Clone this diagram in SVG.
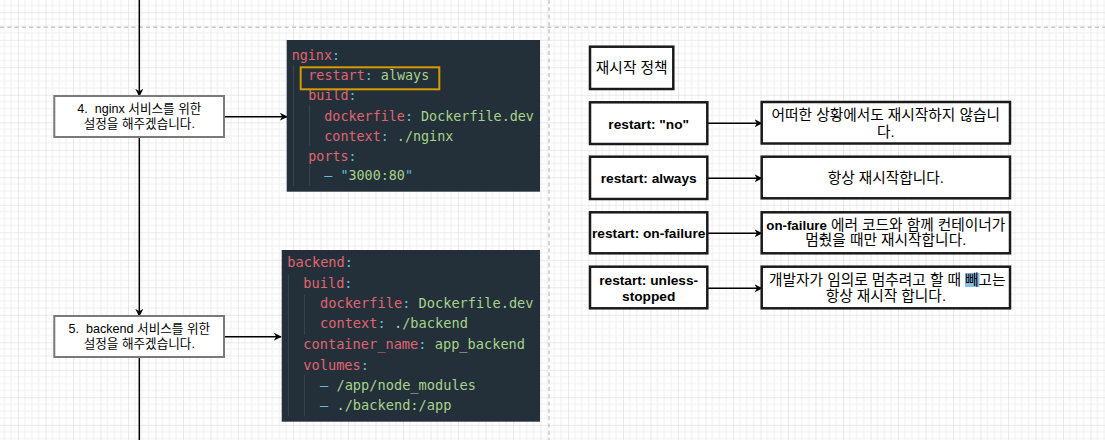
<svg xmlns="http://www.w3.org/2000/svg" width="1105" height="440" viewBox="0 0 1105 440">
<defs>
<pattern id="grid" patternUnits="userSpaceOnUse" x="18" y="12.3" width="27.5" height="27.5">
<rect width="27.5" height="27.5" fill="#ffffff"/>
<path d="M6.875 0V27.5M13.75 0V27.5M20.625 0V27.5M0 6.875H27.5M0 13.75H27.5M0 20.625H27.5" stroke="#f0f0f0" stroke-width="1"/>
<path d="M0 0V27.5M0 0H27.5" stroke="#d6d6d6" stroke-width="1"/>
</pattern>
<marker id="arr" viewBox="0 0 10 10" refX="9" refY="5" markerWidth="8" markerHeight="8" markerUnits="userSpaceOnUse" orient="auto">
<path d="M0 0L10 5L0 10L3 5Z" fill="#000"/>
</marker>
</defs>
<style>
.conn{stroke:#000;stroke-width:1.5;fill:none}
.dash{stroke:#c8c8c8;stroke-width:1.5;stroke-dasharray:4 3.3;fill:none}
.step{fill:#fff;stroke:#7a7a7a;stroke-width:2}
.stepT{font-family:"Liberation Sans","Noto Sans CJK KR",sans-serif;font-size:12.6px;fill:#000;text-anchor:middle;white-space:pre}
.box{fill:#fff;stroke:#1a1a1a;stroke-width:2.5}
.bT{font-family:"Liberation Sans","Noto Sans CJK KR",sans-serif;font-size:14.7px;fill:#000;text-anchor:middle}
.bL{font-family:"Liberation Sans","Noto Sans CJK KR",sans-serif;font-size:13.7px;font-weight:bold;fill:#000;text-anchor:middle}
.code{fill:#243039}
.mono{font-family:"DejaVu Sans Mono","Liberation Mono",monospace;white-space:pre}
.k{fill:#e06470}
.c{fill:#5bc0d8}
.v{fill:#a6d38a}
.guide{stroke:#34434d;stroke-width:1}
</style>
<rect width="1105" height="440" fill="url(#grid)"/>
<path class="dash" d="M0 27.3H1105"/>
<path class="dash" d="M549 0V440"/>

<g id="connectors">
<path class="conn" d="M139.3 0V96" marker-end="url(#arr)"/>
<path class="conn" d="M139.3 137V316" marker-end="url(#arr)"/>
<path class="conn" d="M139.3 357V440"/>
<path class="conn" d="M224 116.7H287" marker-end="url(#arr)"/>
<path class="conn" d="M224 336.7H281" marker-end="url(#arr)"/>
<path class="conn" d="M707.3 123.3H761.7" marker-end="url(#arr)"/>
<path class="conn" d="M707.3 178.3H761.7" marker-end="url(#arr)"/>
<path class="conn" d="M707.3 233.3H761.7" marker-end="url(#arr)"/>
<path class="conn" d="M707.3 288.3H761.7" marker-end="url(#arr)"/>
</g>

<g id="step4">
<rect class="step" x="54.3" y="96" width="169.7" height="41"/>
<text class="stepT" x="139.3" y="112.5">4.  nginx 서비스를 위한</text>
<text class="stepT" x="139.3" y="128">설정을 해주겠습니다.</text>
</g>

<g id="step5">
<rect class="step" x="54.3" y="316" width="169.7" height="41"/>
<text class="stepT" x="139.3" y="332.5">5.  backend 서비스를 위한</text>
<text class="stepT" x="139.3" y="348">설정을 해주겠습니다.</text>
</g>

<g id="code-nginx">
<rect class="code" x="286.7" y="40" width="253.3" height="151.7"/>
<path class="guide" d="M293.5 65V186M309.5 105V146M309.5 165V186"/>
<g class="mono" font-size="13.4">
<text x="291.7" y="59.5"><tspan class="k">nginx</tspan><tspan class="c">:</tspan></text>
<text x="308.3" y="79.5"><tspan class="k">restart</tspan><tspan class="c">:</tspan><tspan class="v"> always</tspan></text>
<text x="308.3" y="99.5"><tspan class="k">build</tspan><tspan class="c">:</tspan></text>
<text x="324.3" y="120.5"><tspan class="k">dockerfile</tspan><tspan class="c">:</tspan><tspan class="v"> Dockerfile.dev</tspan></text>
<text x="324.3" y="140.5"><tspan class="k">context</tspan><tspan class="c">:</tspan><tspan class="v"> ./nginx</tspan></text>
<text x="308.3" y="160.5"><tspan class="k">ports</tspan><tspan class="c">:</tspan></text>
<text x="324.3" y="180"><tspan class="c">– "</tspan><tspan class="v">3000:80</tspan><tspan class="c">"</tspan></text>
</g>
<rect x="300.7" y="67.3" width="138.6" height="22" fill="none" stroke="#d79b00" stroke-width="2"/>
</g>

<g id="code-backend">
<rect class="code" x="281.7" y="250" width="258.3" height="171.7"/>
<path class="guide" d="M288.5 275V416M304.5 295V335M304.5 375V416"/>
<g class="mono" font-size="13.65">
<text x="287.3" y="267.3"><tspan class="k">backend</tspan><tspan class="c">:</tspan></text>
<text x="303.3" y="288"><tspan class="k">build</tspan><tspan class="c">:</tspan></text>
<text x="320" y="308"><tspan class="k">dockerfile</tspan><tspan class="c">:</tspan><tspan class="v"> Dockerfile.dev</tspan></text>
<text x="320" y="328"><tspan class="k">context</tspan><tspan class="c">:</tspan><tspan class="v"> ./backend</tspan></text>
<text x="303.3" y="348.7"><tspan class="k">container_name</tspan><tspan class="c">:</tspan><tspan class="v"> app_backend</tspan></text>
<text x="303.3" y="369.7"><tspan class="k">volumes</tspan><tspan class="c">:</tspan></text>
<text x="320" y="390.3"><tspan class="c">–</tspan><tspan class="v"> /app/node_modules</tspan></text>
<text x="320" y="410.3"><tspan class="c">–</tspan><tspan class="v"> ./backend:/app</tspan></text>
</g>
</g>

<g id="policy-title">
<rect class="box" x="590" y="46.7" width="83.3" height="42.3"/>
<text class="bT" x="631.7" y="73">재시작 정책</text>
</g>

<g id="restart-no">
<rect class="box" x="590" y="102.3" width="117.3" height="41.7"/>
<text class="bL" x="648.7" y="128.5">restart: "no"</text>
</g>
<g id="desc-no">
<rect class="box" x="761.7" y="102" width="248.3" height="41.5"/>
<text class="bT" x="885.8" y="119.5">어떠한 상황에서도 재시작하지 않습니</text>
<text class="bT" x="885.8" y="136.5">다.</text>
</g>

<g id="restart-always">
<rect class="box" x="590" y="156.7" width="117.3" height="42.3"/>
<text class="bL" x="648.7" y="183">restart: always</text>
</g>
<g id="desc-always">
<rect class="box" x="761.7" y="156.7" width="248.3" height="41.6"/>
<text class="bT" x="885.8" y="183.3">항상 재시작합니다.</text>
</g>

<g id="restart-on-failure">
<rect class="box" x="590" y="212.3" width="117.3" height="41"/>
<text class="bL" x="648.7" y="238">restart: on-failure</text>
</g>
<g id="desc-on-failure">
<rect class="box" x="761.7" y="212.3" width="248.3" height="41"/>
<text class="bT" x="885.8" y="229.5"><tspan font-weight="bold" style="font-size:13.3px">on-failure</tspan> 에러 코드와 함께 컨테이너가</text>
<text class="bT" x="885.8" y="245">멈췄을 때만 재시작합니다.</text>
</g>

<g id="restart-unless-stopped">
<rect class="box" x="590" y="266.7" width="117.3" height="41.6"/>
<text class="bL" x="648.7" y="284.5">restart: unless-</text>
<text class="bL" x="648.7" y="301">stopped</text>
</g>
<g id="desc-unless-stopped">
<rect class="box" x="761.7" y="266.7" width="248.3" height="41.6"/>
<rect x="965" y="273" width="14.5" height="14" fill="#3d8fd6" opacity="0.6"/>
<text class="bT" x="961" y="284.5" style="text-anchor:end">개발자가 임의로 멈추려고 할 때</text>
<text class="bT" x="965" y="284.5" style="text-anchor:start">빼고는</text>
<text class="bT" x="885.8" y="301">항상 재시작 합니다.</text>
</g>
</svg>
